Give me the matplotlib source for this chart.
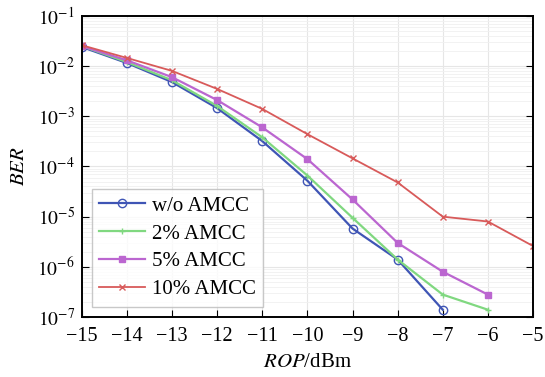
import matplotlib
matplotlib.use("Agg")
import matplotlib.pyplot as plt
import numpy as np

rop = [-15, -14, -13, -12, -11, -10, -9, -8, -7, -6, -5]
ber_wo = [2.4e-2, 1.15e-2, 4.8e-3, 1.45e-3, 3.2e-4, 5.2e-5, 5.8e-6, 1.4e-6, 1.4e-7]
ber_2 = [2.5e-2, 1.2e-2, 5.2e-3, 1.6e-3, 3.8e-4, 6.6e-5, 9.5e-6, 1.4e-6, 2.8e-7, 1.4e-7]
ber_5 = [2.5e-2, 1.3e-2, 6.0e-3, 2.1e-3, 6.0e-4, 1.4e-4, 2.2e-5, 3.0e-6, 8.0e-7, 2.8e-7]
ber_10 = [2.6e-2, 1.45e-2, 8.0e-3, 3.5e-3, 1.4e-3, 4.4e-4, 1.45e-4, 4.8e-5, 1.0e-5, 8.0e-6, 2.6e-6]
labels = ["w/o AMCC", "2% AMCC", "5% AMCC", "10% AMCC"]

plt.rcParams['font.family'] = ['Liberation Serif', 'DejaVu Serif']
plt.rcParams['mathtext.fontset'] = 'stix'

fig = plt.figure(figsize=(5.45, 3.77), dpi=100)
ax = fig.add_axes([0.150, 0.159, 0.828, 0.799])

ax.plot(rop[:len(ber_wo)], ber_wo, color='#3f55b5', marker='o', mfc='none', ms=6, lw=1.6, label=labels[0])
ax.plot(rop[:len(ber_2)], ber_2, color='#80d880', marker='+', ms=5, lw=1.6, label=labels[1])
ax.plot(rop[:len(ber_5)], ber_5, color='#bb66d0', marker='s', ms=4, lw=1.6, label=labels[2])
ax.plot(rop[:len(ber_10)], ber_10, color='#d85a5a', marker='x', ms=4, lw=1.3, label=labels[3])

ax.set_yscale('log')
ax.set_xlim(-15, -5)
ax.set_ylim(1e-7, 1e-1)
ax.set_xticks(rop)
ax.set_xticklabels([f"\u2212{abs(v)}" for v in rop])
ax.set_yticks([10.0**k for k in range(-7, 0)])
ax.set_yticklabels([f"$10^{{{k}}}$" for k in range(-7, 0)])
ax.yaxis.set_minor_formatter(matplotlib.ticker.NullFormatter())
ax.tick_params(axis='x', which='major', direction='in', labelsize=14.5, length=5, pad=7)
ax.tick_params(axis='y', which='major', direction='in', labelsize=14, right=True, length=5, pad=5)
ax.tick_params(axis='both', which='minor', direction='in', length=0)
ax.grid(True, which='major', color='#e6e6e6', lw=0.8)
ax.grid(True, which='minor', axis='y', color='#f0f0f0', lw=0.6)
for s in ax.spines.values():
    s.set_linewidth(1.4)

ax.set_ylabel('$BER$', fontsize=15, labelpad=6)
ax.set_xlabel('$ROP$/dBm', fontsize=15, labelpad=5)

leg = ax.legend(loc='lower left', fontsize=15, frameon=True, fancybox=False,
                edgecolor='#bbbbbb', handlelength=2.2, borderaxespad=0.5,
                labelspacing=0.4, borderpad=0.35, handletextpad=0.3)
leg.get_frame().set_linewidth(1.0)

fig.savefig('out.png', dpi=100)
